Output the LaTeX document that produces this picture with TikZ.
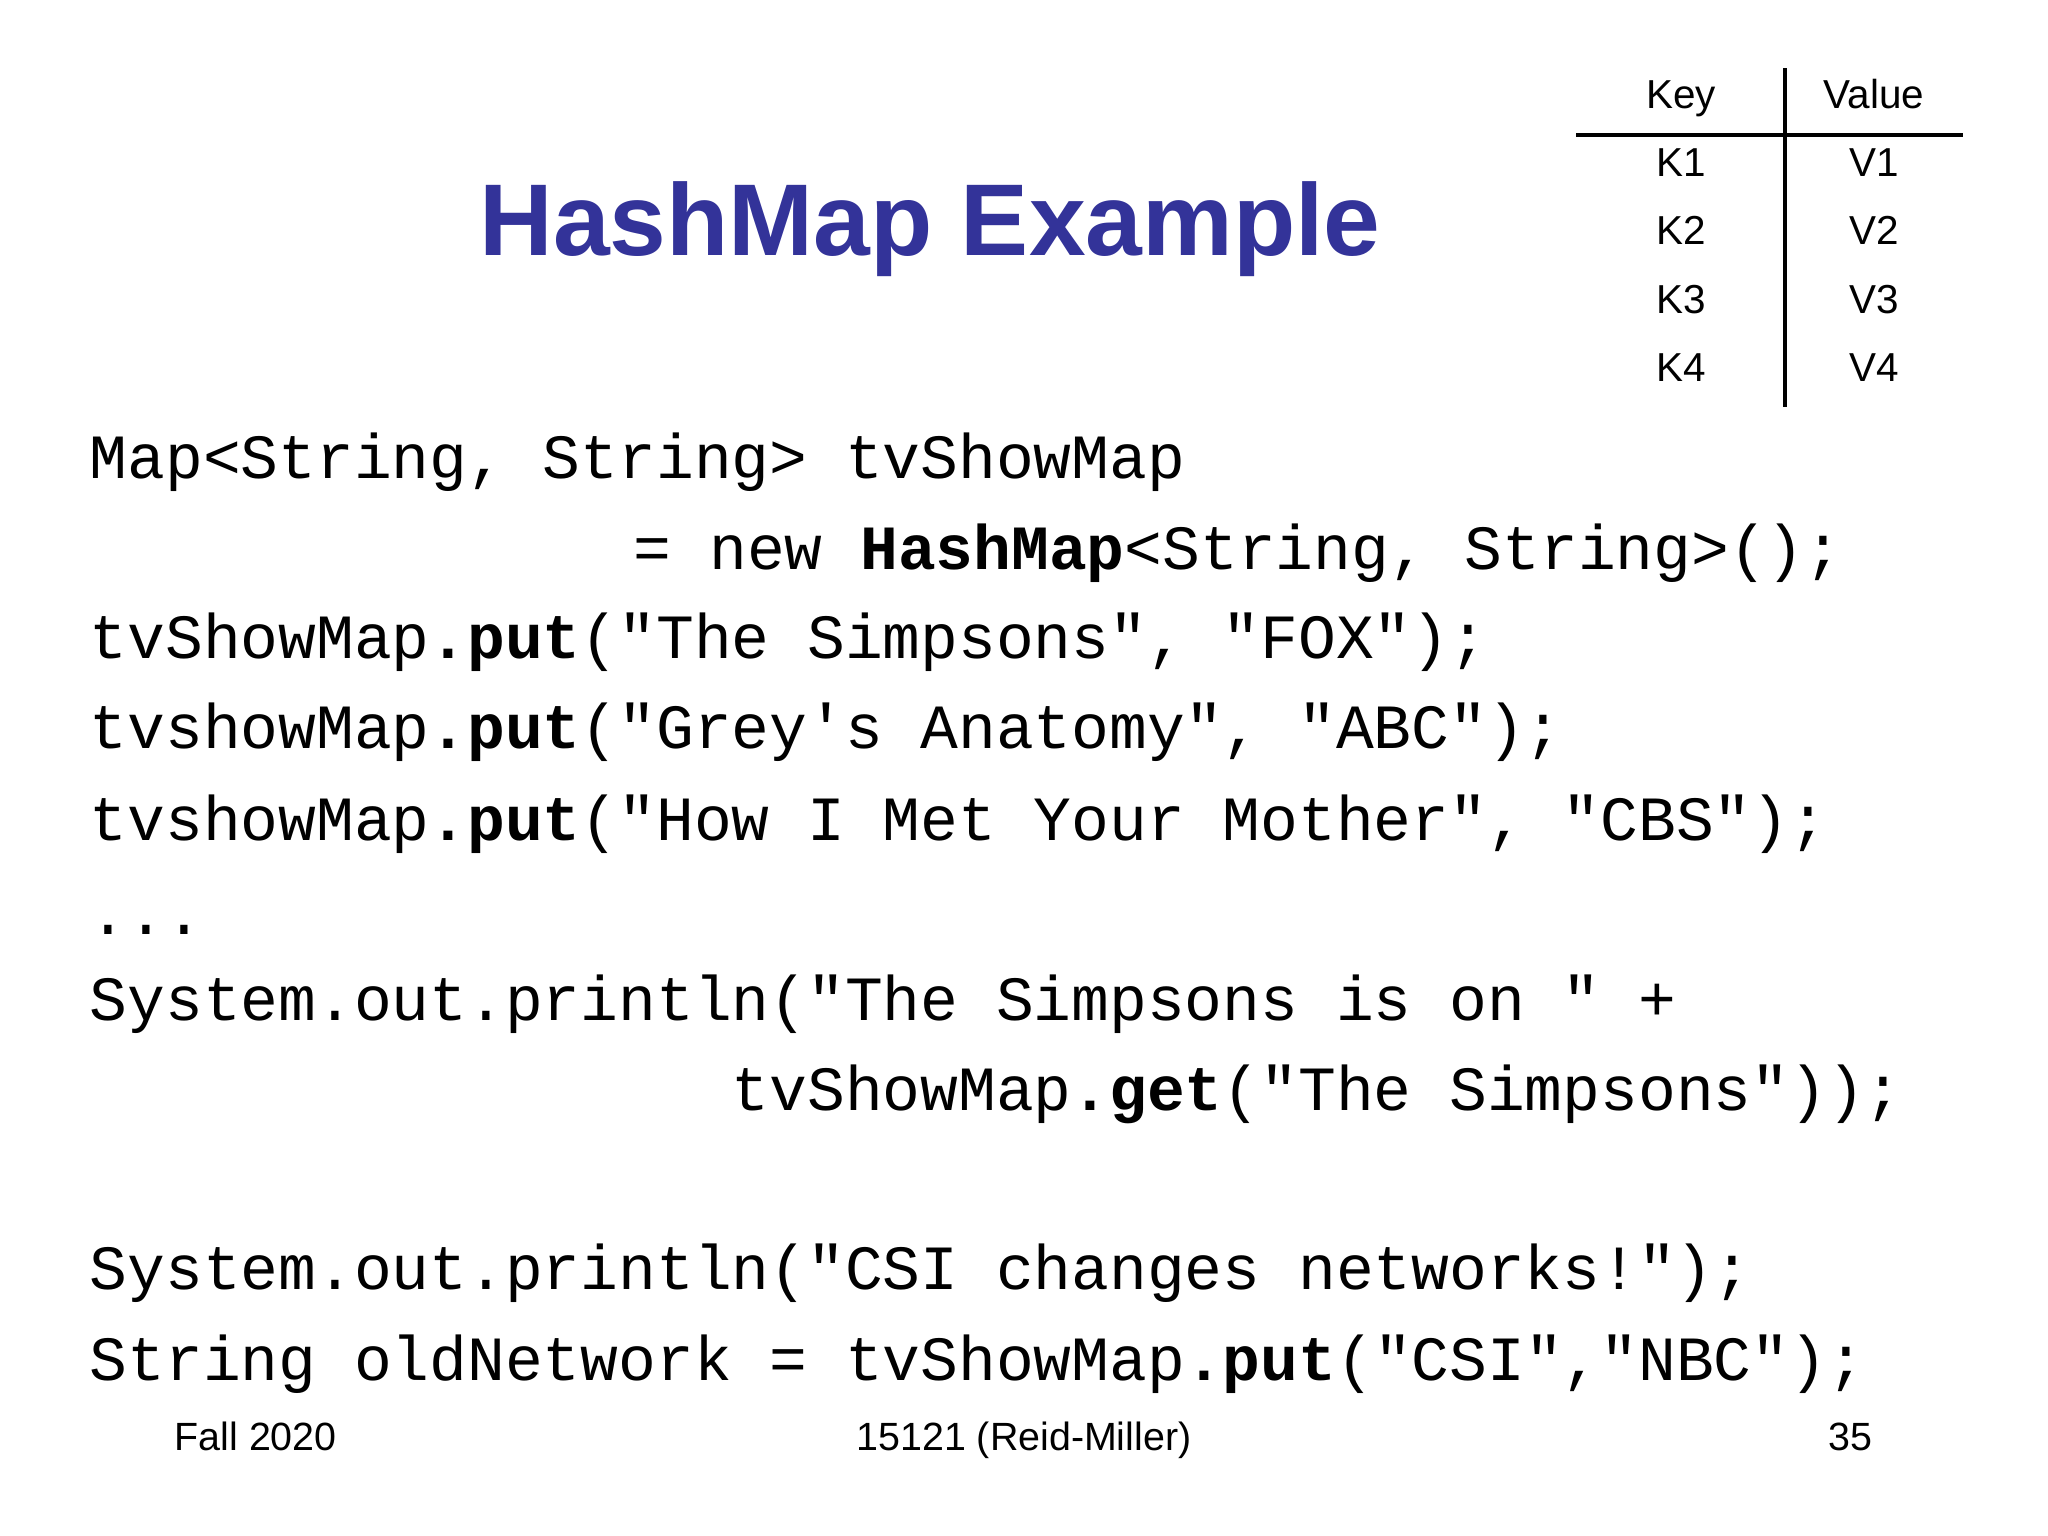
\documentclass[tikz,border=0pt]{standalone}
\usepackage{fontspec}
\setmainfont{Liberation Sans}
\setsansfont{Liberation Sans}
\setmonofont{Liberation Mono}
\definecolor{titleblue}{RGB}{51,51,153}
\begin{document}
\begin{tikzpicture}[x=0.01cm,y=-0.01cm,
  code/.style={anchor=base west,inner sep=0,font=\ttfamily\fontsize{17.9}{18}\selectfont},
  tab/.style={anchor=base,inner sep=0,font=\sffamily\fontsize{11.5}{12}\selectfont},
  foot/.style={inner sep=0,font=\sffamily\fontsize{11.2}{12}\selectfont}]
\useasboundingbox (0,0) rectangle (2048,1536);
\node[inner sep=0,anchor=base,text=titleblue,font=\sffamily\bfseries\fontsize{29}{32}\selectfont] (title) at (930,255) {HashMap Example};
% table
\coordinate (vt) at (1785,68); \coordinate (vb) at (1785,407);
\coordinate (hl) at (1576,135); \coordinate (hr) at (1963,135);
\draw[line width=1.3pt] (vt) -- (vb);
\draw[line width=1.3pt] (hl) -- (hr);
\node[tab] (kh) at (1681,108) {Key};
\node[tab] (vh) at (1874,108) {Value};
\foreach \i/\y in {1/176,2/244,3/313,4/381}{
  \node[tab] (k\i) at (1681,\y) {K\i};
  \node[tab] (v\i) at (1874,\y) {V\i};
}
% code
\node[code] (c1) at (89,478) {Map<String, String> tvShowMap};
\node[code] (c2) at (633,569) {= new \textbf{HashMap}<String, String>();};
\node[code] (c3) at (89,658) {tvShowMap\textbf{.put}("The Simpsons", "FOX");};
\node[code] (c4) at (89,748) {tvshowMap\textbf{.put}("Grey's Anatomy", "ABC");};
\node[code] (c5) at (89,840) {tvshowMap\textbf{.put}("How I Met Your Mother", "CBS");};
\node[code] (c6) at (89,934) {...};
\node[code] (c7) at (89,1020) {System.out.println("The Simpsons is on " +};
\node[code] (c8) at (731,1110) {tvShowMap\textbf{.get}("The Simpsons"));};
\node[code] (c9) at (89,1289) {System.out.println("CSI changes networks!");};
\node[code] (c10) at (89,1380) {String oldNetwork = tvShowMap\textbf{.put}("CSI","NBC");};
% footer
\node[foot,anchor=base west] (f1) at (174,1450) {Fall 2020};
\node[foot,anchor=base] (f2) at (1024,1450) {15121 (Reid-Miller)};
\node[foot,anchor=base east] (f3) at (1873,1450) {35};
\end{tikzpicture}
\end{document}
